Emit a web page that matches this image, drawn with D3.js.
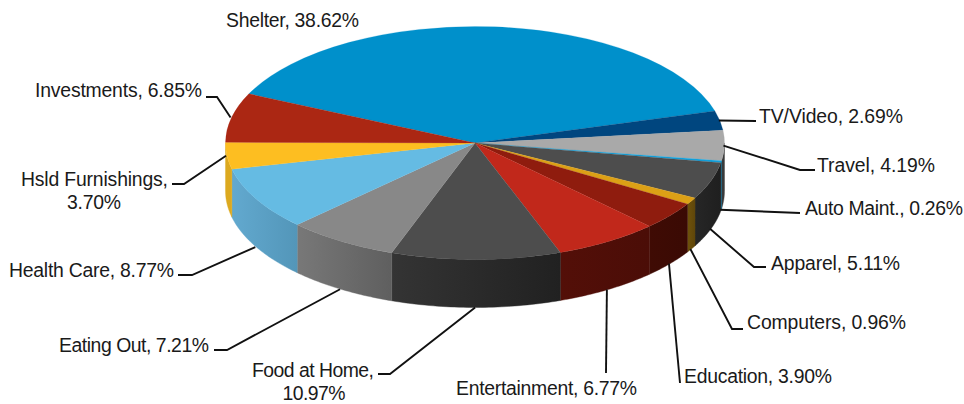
<!DOCTYPE html>
<html>
<head>
<meta charset="utf-8">
<script src="https://d3js.org/d3.v7.min.js"></script>
<style>
  html, body { margin: 0; padding: 0; background: #fff; }
  svg { display: block; }
  text { font-family: "Liberation Sans", Arial, sans-serif; font-size: 19.4px; fill: #1a1a1a; }
</style>
</head>
<body>
<svg id="chart" width="964" height="404"></svg>
<script>
// Household spending shares, clockwise starting from the largest slice
const categories = ["Shelter", "TV/Video", "Travel", "Auto Maint.", "Apparel", "Computers",
  "Education", "Entertainment", "Food at Home", "Eating Out", "Health Care",
  "Hsld Furnishings", "Investments"];
const shares = [38.62, 2.69, 4.19, 0.26, 5.11, 0.96, 3.90, 6.77, 10.97, 7.21, 8.77, 3.70, 6.85];

// Face colour of each slice and the two ends of its rim shading
const faceColors = ["#0090cb", "#00467f", "#a9a9a9", "#12a0dc", "#4d4d4d", "#dca016",
  "#8f1c0e", "#c1281b", "#4d4d4d", "#888888", "#65bbe3", "#fdbe21", "#ab2713"];
const rimLeft = ["#00648f", "#002f55", "#3a3a3a", "#0c6f99", "#262626", "#6f520b",
  "#3f0b04", "#530f08", "#343434", "#787878", "#62a9cf", "#dca91f", "#7a1b0d"];
const rimRight = ["#00648f", "#002f55", "#3a3a3a", "#0c6f99", "#1f1f1f", "#5f460a",
  "#3a0a04", "#4b0d07", "#212121", "#5f5f5f", "#5396b9", "#dca91f", "#7a1b0d"];

// Leader elbows and text placement for each label, in the order of categories
const labelLayout = [
  { leader: false, x: 226, y: 27, w: 133 },
  { leader: [[756, 121]], x: 759, y: 123, w: 144 },
  { leader: [[800, 170], [815, 170]], x: 817, y: 172, w: 118 },
  { leader: [[800, 213]], x: 805, y: 215, w: 158 },
  { leader: [[754, 267], [766, 267]], x: 771, y: 270, w: 129 },
  { leader: [[732, 329], [743, 329]], x: 747, y: 329, w: 159 },
  { leader: [[680, 383]], x: 684, y: 383, w: 148 },
  { leader: [[606, 373]], x: 456, y: 395, w: 181 },
  { leader: [[390, 374], [378, 374]], x: 252, y: 377, w: 122, cx: 314, valueW: 63 },
  { leader: [[227, 350], [214, 350]], x: 59, y: 352, w: 150 },
  { leader: [[192, 275], [178, 275]], x: 9, y: 277, w: 165 },
  { leader: [[184, 184], [172, 184]], x: 21, y: 186, w: 147, cx: 94, valueW: 54 },
  { leader: [[217, 97], [206, 97]], x: 35, y: 97, w: 167 }
];

const svg = d3.select("#chart");
const cx = 475, cy = 143, rx = 249.5, ry = 116.5, depth = 48;
const rad = Math.PI / 180;
const startAngle = 295 * rad;

const slices = d3.pie().sort(null).startAngle(startAngle).endAngle(startAngle + 2 * Math.PI)(shares);

// Point on the rim of the tilted disc at a clockwise angle from twelve o'clock
const xAt = a => cx + rx * Math.sin(a);
const yAt = a => cy - ry * Math.cos(a);

const defs = svg.append("defs");
const line = d3.line();

// Rim: only the part of each slice between 3 and 9 o'clock faces the viewer
const rim = svg.append("g");
slices.forEach((s, i) => {
  let visible = null;
  for (const turn of [0, 2 * Math.PI]) {
    const a0 = Math.max(s.startAngle - turn, 90 * rad);
    const a1 = Math.min(s.endAngle - turn, 270 * rad);
    if (a1 > a0) visible = [a0, a1];
  }
  if (!visible) return;
  const [a0, a1] = visible;
  const id = "rim" + i;
  const grad = defs.append("linearGradient").attr("id", id)
    .attr("gradientUnits", "userSpaceOnUse")
    .attr("x1", Math.min(xAt(a0), xAt(a1))).attr("x2", Math.max(xAt(a0), xAt(a1)))
    .attr("y1", 0).attr("y2", 0);
  grad.append("stop").attr("offset", 0).attr("stop-color", rimLeft[i]);
  grad.append("stop").attr("offset", 1).attr("stop-color", rimRight[i]);
  const steps = d3.range(0, 41).map(k => a0 + (a1 - a0) * k / 40);
  const upper = steps.map(a => [xAt(a), yAt(a)]);
  const lower = steps.slice().reverse().map(a => [xAt(a), yAt(a) + depth]);
  rim.append("path").attr("d", line(upper.concat(lower)) + "Z")
    .attr("fill", `url(#${id})`).attr("stroke", `url(#${id})`).attr("stroke-width", 0.4);
});

// Top face: a circular arc squashed into an ellipse
const arc = d3.arc().innerRadius(0).outerRadius(rx);
svg.append("g")
  .attr("transform", `translate(${cx},${cy}) scale(1,${ry / rx})`)
  .selectAll("path").data(slices).join("path")
  .attr("d", arc)
  .attr("fill", (d, i) => faceColors[i])
  .attr("stroke", (d, i) => faceColors[i])
  .attr("stroke-width", 0.3);

// Leader lines start at the slice middle, on the rim's lower edge for front slices
const leaders = svg.append("g").attr("fill", "none").attr("stroke", "#111").attr("stroke-width", 1.9);
slices.forEach((s, i) => {
  const layout = labelLayout[i];
  if (!layout.leader) return;
  const mid = (s.startAngle + s.endAngle) / 2;
  const drop = yAt(mid) - cy;
  const anchor = [xAt(mid) - 1, yAt(mid) + (drop > 15 ? depth : 0)];
  leaders.append("path").attr("d", line([anchor, ...layout.leader]));
});

// Labels read "name, value%"; two of them wrap with the value centred underneath
const labels = svg.append("g");
const fitted = (x, y, width, content) => labels.append("text")
  .attr("x", x).attr("y", y)
  .attr("textLength", width).attr("lengthAdjust", "spacing")
  .text(content);
categories.forEach((name, i) => {
  const layout = labelLayout[i];
  const value = shares[i].toFixed(2) + "%";
  if (layout.cx === undefined) {
    fitted(layout.x, layout.y, layout.w, `${name}, ${value}`);
  } else {
    fitted(layout.x, layout.y, layout.w, `${name},`);
    fitted(layout.cx - layout.valueW / 2, layout.y + 23, layout.valueW, value);
  }
});
</script>
</body>
</html>
